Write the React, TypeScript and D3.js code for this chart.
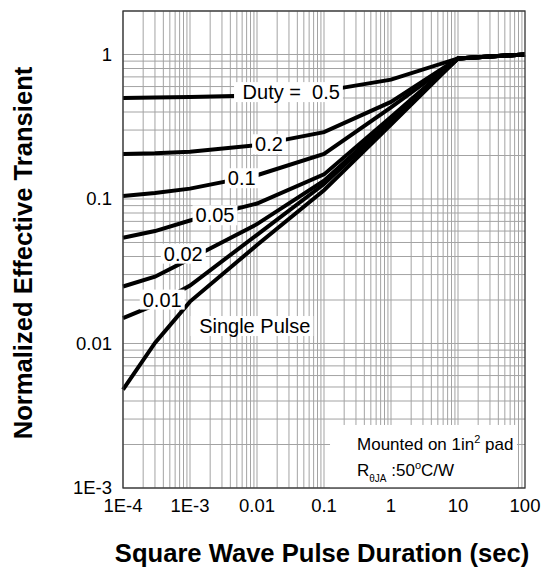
import React, { useEffect, useRef } from 'react';
import * as d3 from 'd3';

// Pulse duration (sec)
const pulseTimes = [1e-4, 3e-4, 1e-3, 1e-2, 0.1, 1, 10, 100];
// Normalized effective transient thermal impedance per duty cycle
const duty050 = [0.5, 0.503, 0.508, 0.52, 0.56, 0.67, 0.94, 1.0];
const duty020 = [0.205, 0.207, 0.212, 0.236, 0.29, 0.47, 0.94, 1.0];
const duty010 = [0.105, 0.11, 0.118, 0.146, 0.205, 0.43, 0.94, 1.0];
const duty005 = [0.054, 0.06, 0.071, 0.093, 0.148, 0.37, 0.94, 1.0];
const duty002 = [0.0248, 0.029, 0.0385, 0.067, 0.134, 0.353, 0.94, 1.0];
const duty001 = [0.015, 0.0185, 0.0252, 0.0565, 0.127, 0.344, 0.94, 1.0];
const singlePulse = [0.0048, 0.0101, 0.0195, 0.048, 0.115, 0.327, 0.94, 1.0];

const seriesList = [duty050, duty020, duty010, duty005, duty002, duty001, singlePulse];

// Curve labels (centre position in data units)
const labelTexts = [' Duty =  0.5', '0.2', '0.1', '0.05', '0.02', '0.01', ' Single Pulse'];
const labelX = [0.0295, 0.0151, 0.00592, 0.00236, 7.94e-4, 3.85e-4, 0.00841];
const labelY = [0.551, 0.24, 0.1397, 0.0774, 0.042, 0.0202, 0.01325];

const xTickValues = [1e-4, 1e-3, 1e-2, 0.1, 1, 10, 100];
const xTickLabels = ['1E-4', '1E-3', '0.01', '0.1', '1', '10', '100'];
const yTickValues = [1e-3, 1e-2, 0.1, 1];
const yTickLabels = ['1E-3', '0.01', '0.1', '1'];

const xTitle = 'Square Wave Pulse Duration (sec)';
const yTitle = 'Normalized Effective Transient';

// Note box extent (data units)
const noteBoxX = [0.123, 76];
const noteBoxY = [1e-3, 0.00273];

const W = 547;
const H = 569;
const FONT = '"Liberation Sans", Arial, Helvetica, sans-serif';

export default function App() {
  const ref = useRef<SVGSVGElement>(null);

  useEffect(() => {
    const svg = d3.select(ref.current);
    svg.selectAll('*').remove();

    const x = d3.scaleLog().domain([1e-4, 100]).range([123, 525]);
    const y = d3.scaleLog().domain([1e-3, 2]).range([488, 11]);

    const [x0, x1] = x.range();
    const [y0, y1] = y.range();

    svg.append('rect').attr('width', W).attr('height', H).attr('fill', '#fff');

    // grid
    const xGrid: number[] = [];
    for (let d = -4; d <= 1; d++) for (let k = 1; k <= 9; k++) xGrid.push(k * Math.pow(10, d));
    const yGrid: number[] = [];
    for (let d = -3; d <= 0; d++) for (let k = 1; k <= 9; k++) yGrid.push(k * Math.pow(10, d));

    const grid = svg.append('g').attr('stroke', '#a3a3a3').attr('stroke-width', 1);
    grid.selectAll('line.gx').data(xGrid).join('line')
      .attr('x1', d => x(d)).attr('x2', d => x(d)).attr('y1', y1).attr('y2', y0);
    grid.selectAll('line.gy').data(yGrid).join('line')
      .attr('class', 'gy')
      .attr('y1', d => y(d)).attr('y2', d => y(d)).attr('x1', x0).attr('x2', x1);

    // curves
    const line = d3.line<number>()
      .x((_, i) => x(pulseTimes[i]))
      .y(d => y(d));
    svg.append('g').selectAll('path').data(seriesList).join('path')
      .attr('d', d => line(d))
      .attr('fill', 'none')
      .attr('stroke', '#000')
      .attr('stroke-width', 4);

    // curve labels with white boxes
    const lg = svg.append('g');
    labelTexts.forEach((t, i) => {
      const g = lg.append('g');
      const rect = g.append('rect').attr('fill', '#fff');
      const txt = g.append('text')
        .attr('x', x(labelX[i]))
        .attr('y', y(labelY[i]))
        .attr('dy', '0.36em')
        .attr('text-anchor', 'middle')
        .attr('font-family', FONT)
        .attr('font-size', 20)
        .attr('fill', '#000')
        .style('white-space', 'pre')
        .attr('xml:space', 'preserve')
        .text(t);
      const bb = (txt.node() as SVGTextElement).getBBox();
      rect.attr('x', bb.x - 3).attr('y', bb.y + 1).attr('width', bb.width + 6).attr('height', bb.height - 2);
    });

    // note box
    svg.append('rect')
      .attr('x', x(noteBoxX[0])).attr('y', y(noteBoxY[1]))
      .attr('width', x(noteBoxX[1]) - x(noteBoxX[0]))
      .attr('height', y(noteBoxY[0]) - y(noteBoxY[1]))
      .attr('fill', '#fff');
    const nx = x(noteBoxX[0]) + 27;
    const ny = y(noteBoxY[1]);
    const t1 = svg.append('text').attr('x', nx).attr('y', ny + 25)
      .attr('font-family', FONT).attr('font-size', 17).attr('fill', '#000');
    t1.append('tspan').text('Mounted on 1in');
    t1.append('tspan').attr('font-size', 11).attr('dy', -7).text('2');
    t1.append('tspan').attr('dy', 7).text('\u00a0pad');
    const t2 = svg.append('text').attr('x', nx).attr('y', ny + 51.5)
      .attr('font-family', FONT).attr('font-size', 17).attr('fill', '#000');
    t2.append('tspan').text('R');
    t2.append('tspan').attr('font-size', 10).attr('dy', 6).text('\u03b8JA');
    t2.append('tspan').attr('dy', -6).text('\u00a0:50');
    t2.append('tspan').attr('font-size', 11).attr('dy', -7).text('o');
    t2.append('tspan').attr('dy', 7).text('C/W');

    // frame
    svg.append('rect')
      .attr('x', x0).attr('y', y1).attr('width', x1 - x0).attr('height', y0 - y1)
      .attr('fill', 'none').attr('stroke', '#333').attr('stroke-width', 1.3);

    // tick labels
    svg.append('g').selectAll('text').data(xTickValues).join('text')
      .attr('x', d => x(d)).attr('y', y0 + 24)
      .attr('text-anchor', 'middle')
      .attr('font-family', FONT).attr('font-size', 18.5).attr('fill', '#000')
      .text((_, i) => xTickLabels[i]);
    svg.append('g').selectAll('text').data(yTickValues).join('text')
      .attr('x', x0 - 11).attr('y', d => y(d))
      .attr('dy', '0.35em')
      .attr('text-anchor', 'end')
      .attr('font-family', FONT).attr('font-size', 18.5).attr('fill', '#000')
      .text((_, i) => yTickLabels[i]);

    // axis titles
    svg.append('text')
      .attr('x', 322).attr('y', 561.5)
      .attr('text-anchor', 'middle')
      .attr('font-family', FONT).attr('font-weight', 'bold').attr('font-size', 25.6)
      .attr('fill', '#000')
      .text(xTitle);
    svg.append('text')
      .attr('transform', 'translate(31.5,253) rotate(-90)')
      .attr('text-anchor', 'middle')
      .attr('font-family', FONT).attr('font-weight', 'bold').attr('font-size', 25.6)
      .attr('fill', '#000')
      .text(yTitle);
  }, []);

  return (
    <svg
      ref={ref}
      width={W}
      height={H}
      style={{ position: 'absolute', left: 0, top: 0, display: 'block' }}
    />
  );
}
